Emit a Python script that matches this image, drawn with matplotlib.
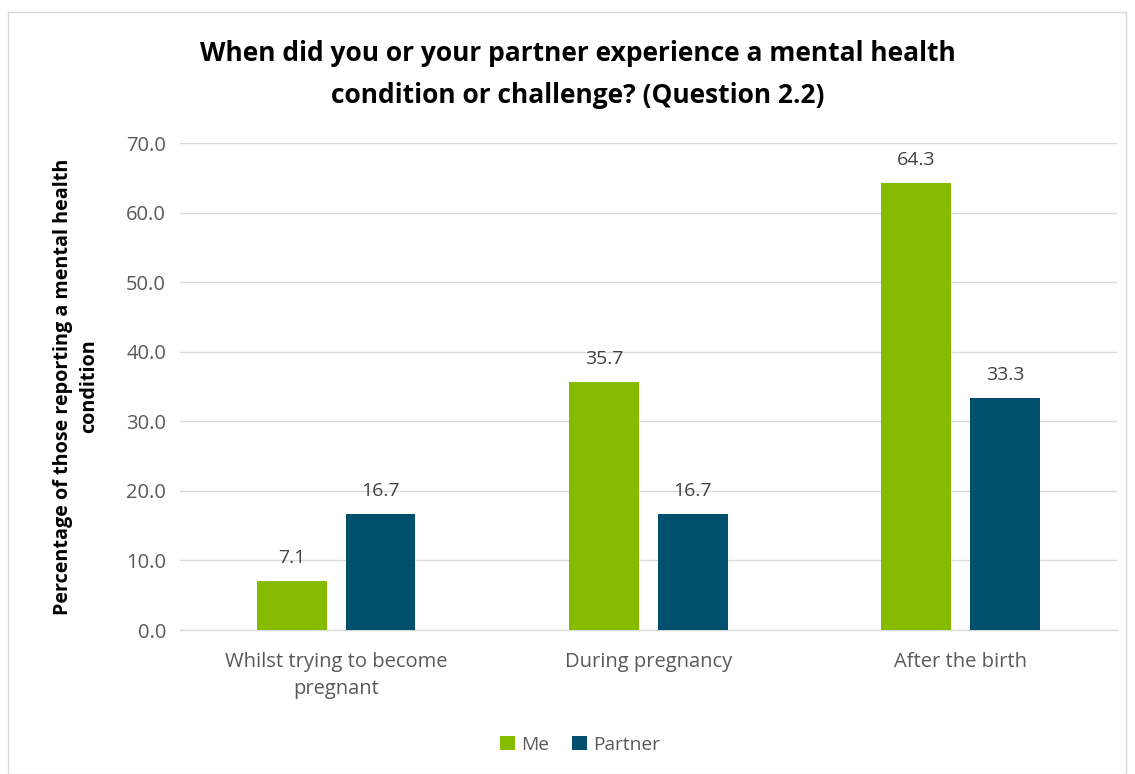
import numpy as np
import matplotlib.pyplot as plt
from matplotlib.patches import Rectangle

plt.rcParams['font.family'] = ['Open Sans', 'DejaVu Sans']

categories = ["Whilst trying to become\npregnant", "During pregnancy", "After the birth"]
me = [7.1, 35.7, 64.3]
partner = [16.7, 16.7, 33.3]
yticks = [0, 10, 20, 30, 40, 50, 60, 70]

green = "#86BC00"
navy = "#00506E"
grey = "#595959"

fig = plt.figure(figsize=(11.35, 7.74), dpi=100)
ax = fig.add_axes([0.1586, 0.186, 0.8254, 0.6292])

x = np.arange(len(categories))
w = 0.224
gap = 0.06
b1 = ax.bar(x - (w + gap) / 2, me, w, color=green, label="Me", zorder=3)
b2 = ax.bar(x + (w + gap) / 2, partner, w, color=navy, label="Partner", zorder=3)

for bars, vals in [(b1, me), (b2, partner)]:
    for r, v in zip(bars, vals):
        ax.text(r.get_x() + r.get_width() / 2, v + 2.0, f"{v:.1f}",
                ha="center", va="bottom", fontsize=14, color="#404040")

ax.set_xlim(-0.5, 2.5)
ax.set_ylim(0, 70)
ax.set_yticks(yticks)
ax.set_yticklabels([f"{t:.1f}" for t in yticks], fontsize=14.5, color=grey)
ax.set_xticks(x)
ax.set_xticklabels(categories, fontsize=14.5, color=grey, linespacing=1.45)
ax.tick_params(length=0, pad=10)
ax.tick_params(axis="x", pad=16)
ax.yaxis.grid(True, color="#D9D9D9", linewidth=1, zorder=0)
for s in ["top", "right", "left"]:
    ax.spines[s].set_visible(False)
ax.spines["bottom"].set_color("#D9D9D9")
ax.spines["bottom"].set_linewidth(1)

ax.set_ylabel("Percentage of those reporting a mental health\ncondition", fontsize=14.2,
              fontweight="bold", linespacing=1.45)
ax.yaxis.set_label_coords(-0.086, 0.5)

fig.text(0.509, 0.904, "When did you or your partner experience a mental health\ncondition or challenge? (Question 2.2)",
         ha="center", va="center", fontsize=19, fontweight="bold", linespacing=1.7)

leg = fig.legend(handles=[b1, b2], loc="center", bbox_to_anchor=(0.511, 0.038), ncol=2,
                 frameon=False, fontsize=13.8, handlelength=0.8, handleheight=0.8,
                 handletextpad=0.3, columnspacing=1.2)
for t in leg.get_texts():
    t.set_color(grey)

fig.patches.append(Rectangle((8 / 1135, 0), (1126 - 8) / 1135, 1 - 12 / 774,
                             transform=fig.transFigure, fill=False,
                             edgecolor="#D9D9D9", linewidth=1))

fig.savefig("out.png", dpi=100)
